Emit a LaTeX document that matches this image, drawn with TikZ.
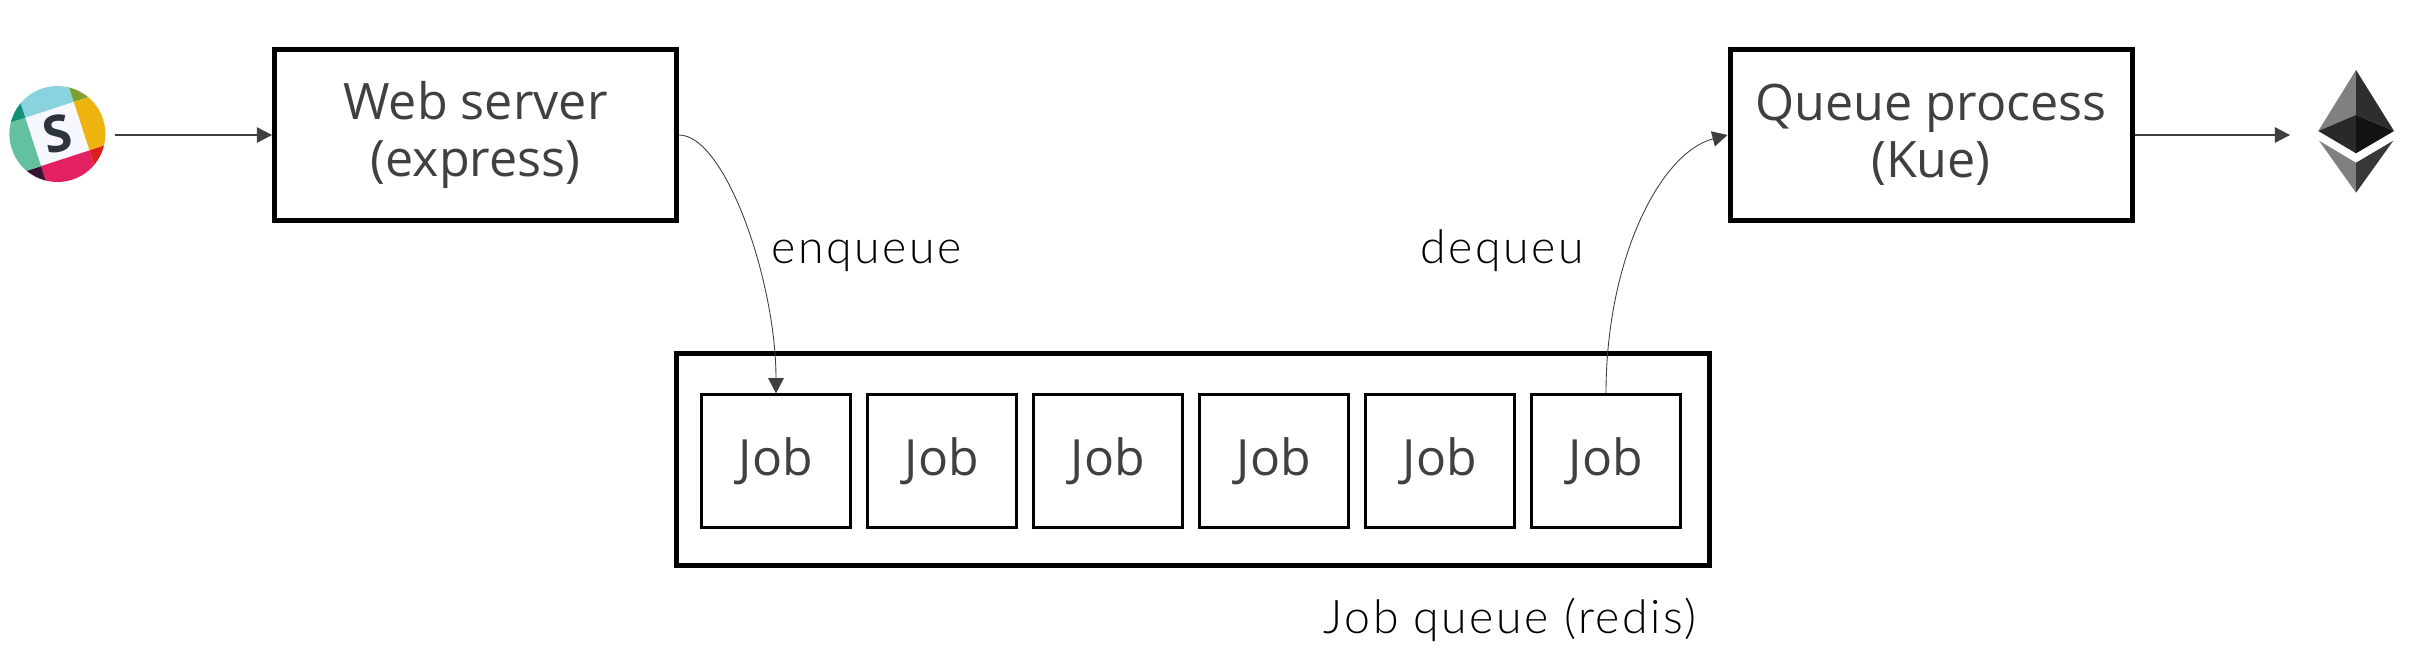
\documentclass[tikz,border=0pt]{standalone}
\usepackage{xcolor}
\usepackage{fontspec}
\usepackage{tikz}
\usetikzlibrary{arrows.meta}
\setmainfont{Open Sans}
\newfontfamily\labelfont[LetterSpace=5.5]{Lato Light}
\definecolor{textgray}{HTML}{404040}
\definecolor{arrowgray}{HTML}{3F3F3D}
\tikzset{
    mainbox/.style={draw=black, line width=1.42pt, minimum width=4.02cm, minimum height=1.704cm, align=center, text=textgray, font=\fontsize{14.3}{16.2}\selectfont},
    jobbox/.style={draw=black, line width=0.65pt, minimum width=1.49cm, minimum height=1.33cm, text=textgray, font=\fontsize{14.2}{16}\selectfont, text height=10.2pt, text depth=1.9pt},
    flow/.style={draw=arrowgray, line width=0.34pt, -{Triangle[length=4.3pt, width=4.4pt]}},
    curveflow/.style={draw=arrowgray, line width=0.25pt, -{Triangle[length=4.3pt, width=4.4pt]}},
    tag/.style={anchor=base west, inner sep=0pt, font=\fontsize{13.2}{16}\labelfont}
}

\begin{document}
\begin{tikzpicture}
    \useasboundingbox (0,0) rectangle (24.24,6.69);

    % Servers
    \node[mainbox] (webserver) at (4.755,5.34) {Web server\\(express)};
    \node[mainbox] (queueproc) at (19.31,5.34) {Queue process\\(Kue)};

    % Job queue
    \node[draw=black, line width=1.42pt, minimum width=10.33cm, minimum height=2.12cm] (jobqueue) at (11.93,2.095) {};
    \node[jobbox] (job1) at (7.76,2.08) {Job};
    \node[jobbox] (job2) at (9.42,2.08) {Job};
    \node[jobbox] (job3) at (11.08,2.08) {Job};
    \node[jobbox] (job4) at (12.74,2.08) {Job};
    \node[jobbox] (job5) at (14.40,2.08) {Job};
    \node[jobbox] (job6) at (16.06,2.08) {Job};

    % Labels
    \node[tag] (enqueue) at (7.71,4.06) {enqueue};
    \node[tag] (dequeu) at (14.20,4.06) {dequeu};
    \node[tag] (queuename) at (13.23,0.36) {Job queue (redis)};

    % Slack logo
    \begin{scope}[shift={(0.574,5.35)}, rotate=18]
        \clip (0,0) circle (0.48);
        \fill[fill=white!97!blue] (-0.255,-0.255) rectangle (0.255,0.255);
        \fill[fill={rgb,255:red,137;green,211;blue,223}] (-0.255,0.255) rectangle (0.255,0.6);
        \fill[fill={rgb,255:red,127;green,160;blue,47}] (0.255,0.255) rectangle (0.6,0.6);
        \fill[fill={rgb,255:red,237;green,179;blue,15}] (0.255,-0.255) rectangle (0.6,0.255);
        \fill[fill={rgb,255:red,220;green,31;blue,28}] (0.255,-0.255) rectangle (0.6,-0.6);
        \fill[fill={rgb,255:red,227;green,33;blue,97}] (-0.255,-0.255) rectangle (0.255,-0.6);
        \fill[fill={rgb,255:red,58;green,18;blue,56}] (-0.255,-0.255) rectangle (-0.6,-0.6);
        \fill[fill={rgb,255:red,99;green,193;blue,160}] (-0.6,-0.255) rectangle (-0.255,0.255);
        \fill[fill={rgb,255:red,19;green,144;blue,120}] (-0.6,0.255) rectangle (-0.255,0.6);
    \end{scope}
    \node[rotate=12, inner sep=0pt, text={rgb,255:red,45;green,51;blue,59}, font=\fontsize{14.5}{16}\bfseries] (slackmark) at (0.574,5.35) {S};
    \coordinate (slackout) at (1.15,5.34);

    % Ethereum logo
    \fill[fill=black!50] (23.56,5.99) -- (23.183,5.38) -- (23.56,5.54) -- cycle;
    \fill[fill=black!82] (23.56,5.99) -- (23.94,5.38) -- (23.56,5.54) -- cycle;
    \fill[fill=black!84] (23.183,5.38) -- (23.56,5.54) -- (23.56,5.157) -- cycle;
    \fill[fill=black!93] (23.94,5.38) -- (23.56,5.54) -- (23.56,5.157) -- cycle;
    \fill[fill=black!50] (23.19,5.283) -- (23.56,5.063) -- (23.56,4.763) -- cycle;
    \fill[fill=black!78] (23.933,5.283) -- (23.56,5.063) -- (23.56,4.763) -- cycle;
    \coordinate (etherin) at (22.90,5.34);

    % Arrows
    \draw[flow] (slackout) -- (webserver.west);
    \draw[flow] (queueproc.east) -- (etherin);
    \draw[curveflow] (webserver.east) .. controls +(0.46,0) and +(0,1.13) .. (job1.north);
    \draw[curveflow] (job6.north) .. controls +(0,1.33) and +(-0.68,-0.18) .. (queueproc.west);

\end{tikzpicture}
\end{document}
